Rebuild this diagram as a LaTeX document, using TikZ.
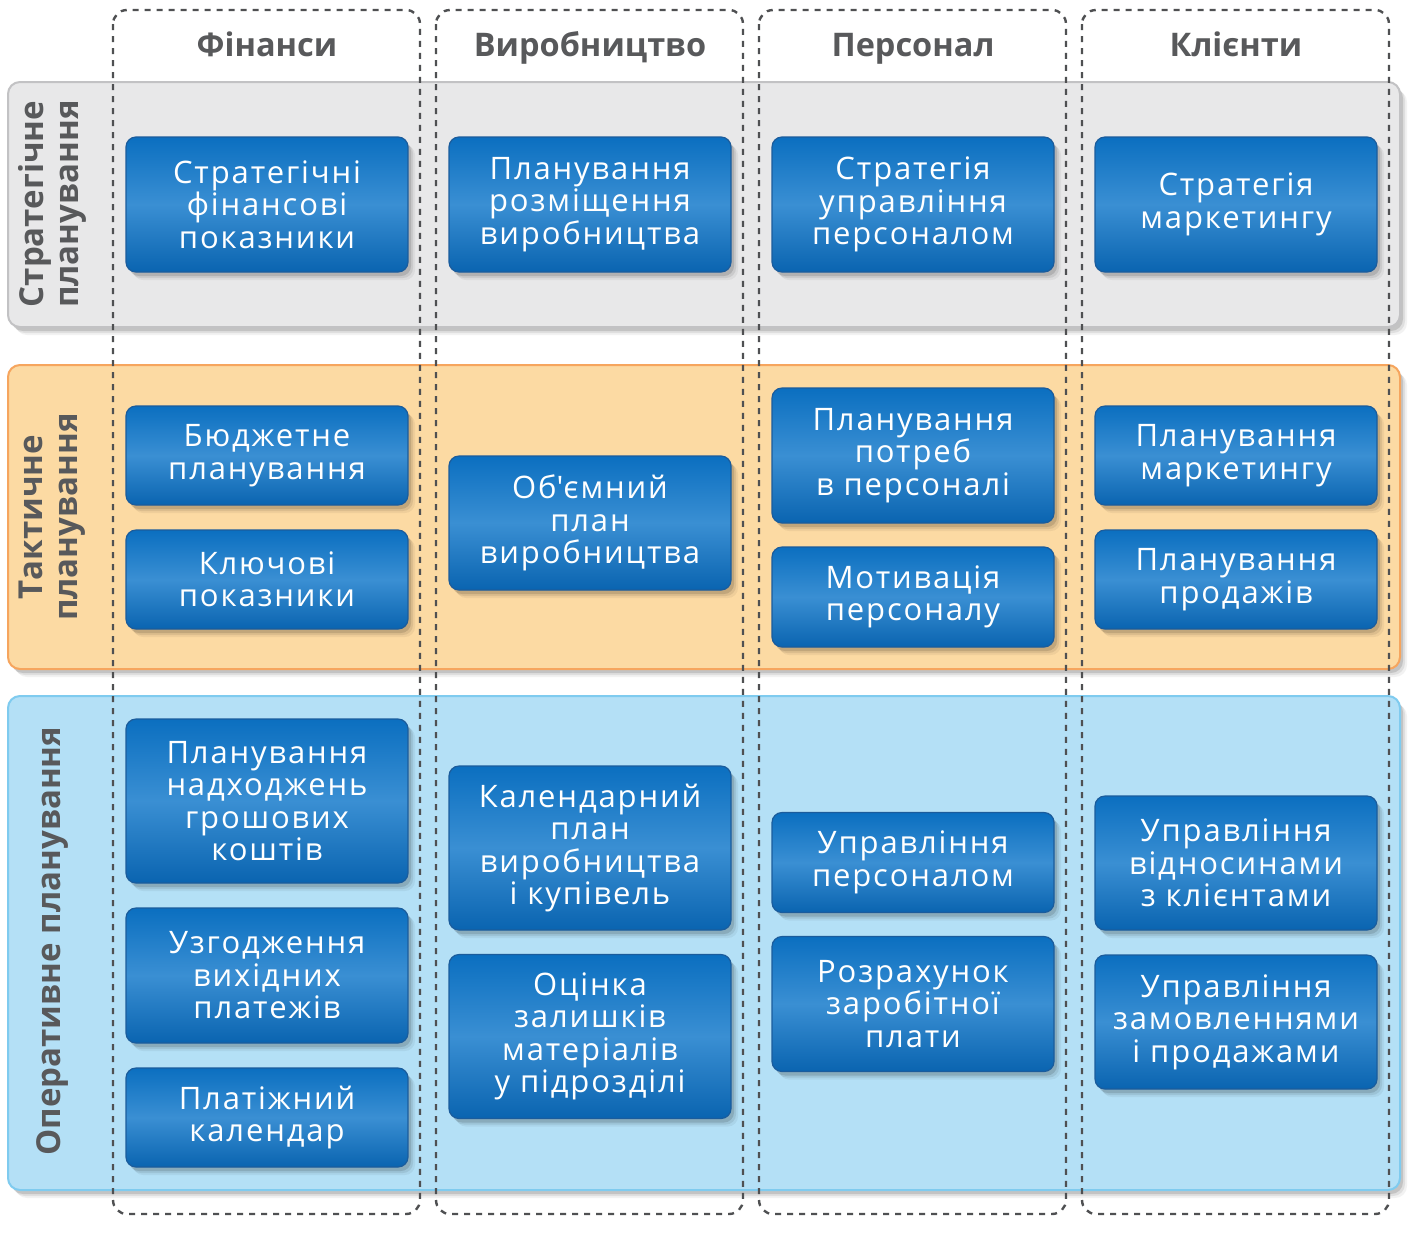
\documentclass[tikz,border=0pt]{standalone}
\usepackage{fontspec}
\setmainfont{Open Sans}
\newfontfamily\boxfont{Open Sans}[LetterSpace=6]
\usetikzlibrary{shadows}
\definecolor{hdr}{HTML}{58595B}
\definecolor{grayfill}{HTML}{E8E8E9}
\definecolor{grayedge}{HTML}{C2C2C4}
\definecolor{orfill}{HTML}{FCDAA3}
\definecolor{oredge}{HTML}{F6A55E}
\definecolor{blfill}{HTML}{B4E0F6}
\definecolor{bledge}{HTML}{7FCBEF}
\definecolor{boxtop}{HTML}{0B6FC0}
\definecolor{boxmid}{HTML}{3A8FD3}
\definecolor{boxbot}{HTML}{0A64B0}
\definecolor{boxedge}{HTML}{1B5C9C}
\definecolor{dashc}{HTML}{4F5052}
\begin{document}
\begin{tikzpicture}[x=1pt,y=-1pt,
  softshadow/.style={
    drop shadow={shadow xshift=7pt, shadow yshift=-8pt, opacity=0.05, fill=black},
    drop shadow={shadow xshift=5pt, shadow yshift=-6pt, opacity=0.08, fill=black},
    drop shadow={shadow xshift=3pt, shadow yshift=-4pt, opacity=0.12, fill=black}},
  band/.style={rounded corners=12pt, line width=2pt, softshadow},
  colframe/.style={draw=dashc, line width=2.4pt, dash pattern=on 6pt off 6pt, rounded corners=14pt},
  hdrtext/.style={text=hdr, font=\bfseries\fontsize{32.5}{32.5}\selectfont, anchor=base},
  rowlabel/.style={text=hdr, font=\bfseries\fontsize{33}{35}\selectfont, rotate=90, align=center, inner sep=0pt},
  bbox/.style={draw=boxedge, line width=1.2pt, rounded corners=10pt,
    top color=boxtop, bottom color=boxbot, middle color=boxmid,
    softshadow,
    minimum width=282pt, inner sep=0pt, align=center, text=white,
    font=\boxfont\fontsize{31}{32.5}\selectfont}
]
\useasboundingbox (0,0) rectangle (1421,1235);
\fill[white] (0,0) rectangle (1421,1235);

% bands
\draw[band, fill=grayfill, draw=grayedge] (8,82) rectangle (1400,327);
\draw[band, fill=orfill, draw=oredge] (8,365) rectangle (1400,669);
\draw[band, fill=blfill, draw=bledge] (8,696) rectangle (1400,1190);

% column frames
\foreach \x in {113,436,759,1082} \draw[colframe] (\x,10) rectangle ++(307,1204);

% headers
\node[hdrtext] (hF) at (267,56) {Фінанси};
\node[hdrtext] (hV) at (590,56) {Виробництво};
\node[hdrtext] (hP) at (913,56) {Персонал};
\node[hdrtext] (hK) at (1236,56) {Клієнти};

% row labels
\node[rowlabel] (rS) at (52,204) {Стратегічне\\планування};
\node[rowlabel] (rT) at (52,517) {Тактичне\\планування};
\node[rowlabel] (rO) at (52,941) {Оперативне планування};

% strategic row
\node[bbox, minimum height=135pt] (s1) at (267,204.5) {Стратегічні\\фінансові\\показники};
\node[bbox, minimum height=135pt] (s2) at (590,204.5) {Планування\\розміщення\\виробництва};
\node[bbox, minimum height=135pt] (s3) at (913,204.5) {Стратегія\\управління\\персоналом};
\node[bbox, minimum height=135pt] (s4) at (1236,204.5) {Стратегія\\маркетингу};

% tactical row
\node[bbox, minimum height=99pt] (t1a) at (267,455.5) {Бюджетне\\планування};
\node[bbox, minimum height=99pt] (t1b) at (267,579.5) {Ключові\\показники};
\node[bbox, minimum height=134pt] (t2) at (590,523) {Об\textquotesingle{}ємний\\план\\виробництва};
\node[bbox, minimum height=135pt] (t3a) at (913,455.5) {Планування\\потреб\\в персоналі};
\node[bbox, minimum height=100pt] (t3b) at (913,597) {Мотивація\\персоналу};
\node[bbox, minimum height=99pt] (t4a) at (1236,455.5) {Планування\\маркетингу};
\node[bbox, minimum height=99pt] (t4b) at (1236,579.5) {Планування\\продажів};

% operative row
\node[bbox, minimum height=164pt] (o1a) at (267,801) {Планування\\надходжень\\грошових\\коштів};
\node[bbox, minimum height=135pt] (o1b) at (267,975.5) {Узгодження\\вихідних\\платежів};
\node[bbox, minimum height=99pt] (o1c) at (267,1117.5) {Платіжний\\календар};
\node[bbox, minimum height=164pt] (o2a) at (590,848) {Календарний\\план\\виробництва\\і купівель};
\node[bbox, minimum height=164pt] (o2b) at (590,1036.5) {Оцінка\\залишків\\матеріалів\\у підрозділі};
\node[bbox, minimum height=100pt] (o3a) at (913,862.5) {Управління\\персоналом};
\node[bbox, minimum height=135pt] (o3b) at (913,1004) {Розрахунок\\заробітної\\плати};
\node[bbox, minimum height=134pt] (o4a) at (1236,863) {Управління\\відносинами\\з клієнтами};
\node[bbox, minimum height=134pt] (o4b) at (1236,1022) {Управління\\замовленнями\\і продажами};
\end{tikzpicture}
\end{document}
